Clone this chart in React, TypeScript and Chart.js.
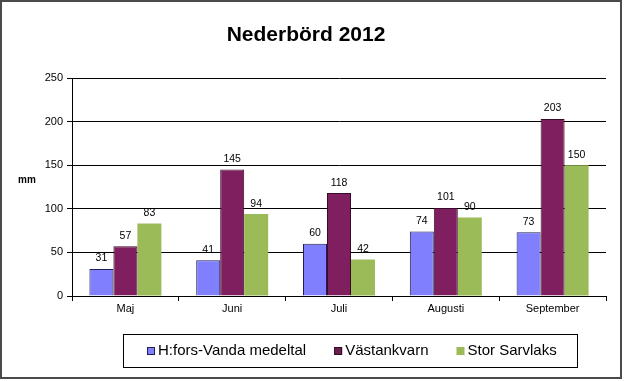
import { useEffect, useRef } from 'react';
import { Chart, registerables } from 'chart.js';

Chart.register(...registerables);

const chartTitle = 'Nederbörd 2012';
const categories = ['Maj', 'Juni', 'Juli', 'Augusti', 'September'];
const seriesNames = ['H:fors-Vanda medeltal', 'Västankvarn', 'Stor Sarvlaks'];
const hforsVanda = [31, 41, 60, 74, 73];
const vastankvarn = [57, 145, 118, 101, 203];
const storSarvlaks = [83, 94, 42, 90, 150];
const yMin = 0;
const yMax = 250;
const yStep = 50;
const yAxisLabel = 'mm';

const FONT = "'Liberation Sans', Arial, sans-serif";

const fills = ['#8080FF', '#7F1F5F', '#9BBB59'];
const borders = ['#1F1F50', '#3A0A2A', '#9BBB59'];
const legendFills = ['#8080FF', '#6A1E4E', '#9BBB59'];

const decorPlugin = {
  id: 'decor',
  beforeDraw(chart: any) {
    const { ctx, width, height } = chart;
    ctx.save();
    ctx.fillStyle = '#ffffff';
    ctx.fillRect(0, 0, width, height);
    ctx.restore();
  },
  afterDraw(chart: any) {
    const { ctx, chartArea } = chart;
    ctx.save();
    // outer border
    ctx.strokeStyle = '#4a4a4a';
    ctx.lineWidth = 2;
    ctx.strokeRect(1, 1, 620, 377);
    // title
    ctx.fillStyle = '#000';
    ctx.font = `bold 21px ${FONT}`;
    ctx.textAlign = 'center';
    ctx.textBaseline = 'middle';
    ctx.fillText(chartTitle, 306, 35);
    // y axis label
    ctx.font = `bold 10px ${FONT}`;
    ctx.fillText(yAxisLabel, chartArea.left - 45, 180);
    // legend
    const boxL = 123, boxT = 334, boxR = 577, boxB = 367;
    ctx.lineWidth = 1;
    ctx.strokeStyle = '#000';
    ctx.strokeRect(boxL + 0.5, boxT + 0.5, boxR - boxL, boxB - boxT);
    ctx.font = `15px ${FONT}`;
    const marker = 8;
    const gapMT = 3;
    const gapItems = 28;
    const widths = seriesNames.map((n) => ctx.measureText(n).width);
    const total = widths.reduce((a, w) => a + marker + gapMT + w, 0) + gapItems * (seriesNames.length - 1);
    let x = Math.round((boxL + boxR) / 2 - total / 2 + 2);
    const cy = (boxT + boxB) / 2 + 0.5;
    ctx.textAlign = 'left';
    ctx.textBaseline = 'middle';
    seriesNames.forEach((n, i) => {
      ctx.fillStyle = legendFills[i];
      ctx.fillRect(x, Math.round(cy - marker / 2), marker, marker);
      if (i < 2) {
        ctx.strokeStyle = borders[i];
        ctx.strokeRect(x + 0.5, Math.round(cy - marker / 2) + 0.5, marker - 1, marker - 1);
      }
      ctx.fillStyle = '#000';
      ctx.fillText(n, x + marker + gapMT, cy);
      x += marker + gapMT + widths[i] + gapItems;
    });
    ctx.restore();
  },
};

const valueLabelPlugin = {
  id: 'valueLabels',
  afterDatasetsDraw(chart: any) {
    const { ctx } = chart;
    ctx.save();
    ctx.fillStyle = '#000';
    ctx.font = `10.5px ${FONT}`;
    ctx.textAlign = 'center';
    ctx.textBaseline = 'alphabetic';
    chart.data.datasets.forEach((ds: any, di: number) => {
      const meta = chart.getDatasetMeta(di);
      meta.data.forEach((bar: any, i: number) => {
        ctx.fillText(String(ds.data[i]), bar.x, bar.y - 7.5);
      });
    });
    ctx.restore();
  },
};

export default function App() {
  const ref = useRef<HTMLCanvasElement | null>(null);
  useEffect(() => {
    if (!ref.current) return;
    const seriesData = [hforsVanda, vastankvarn, storSarvlaks];
    const chart = new Chart(ref.current, {
      type: 'bar',
      data: {
        labels: categories,
        datasets: seriesNames.map((name, i) => ({
          label: name,
          data: seriesData[i],
          backgroundColor: fills[i],
          borderColor: borders[i],
          borderWidth: i < 2 ? 1 : 0,
          categoryPercentage: 0.674,
          barPercentage: 1.0,
        })),
      },
      options: {
        animation: false,
        responsive: false,
        maintainAspectRatio: false,
        layout: { padding: { left: 0, right: 19, top: 78, bottom: 65 } },
        plugins: {
          legend: { display: false },
          title: { display: false },
          tooltip: { enabled: false },
        },
        scales: {
          x: {
            grid: {
              display: true,
              offset: true,
              drawOnChartArea: false,
              drawTicks: true,
              tickLength: 5,
              color: '#000',
            },
            border: { display: true, color: '#000', width: 1 },
            ticks: { color: '#000', font: { family: FONT, size: 11 }, padding: 1, maxRotation: 0 },
            afterFit: (s: any) => { s.height = 20; },
          },
          y: {
            min: yMin,
            max: yMax,
            ticks: { stepSize: yStep, color: '#000', font: { family: FONT, size: 11 }, padding: 4 },
            grid: { color: '#000', tickLength: 5, drawTicks: true },
            border: { display: true, color: '#000', width: 1 },
            afterFit: (s: any) => { s.width = 72; },
          },
        },
      },
      plugins: [decorPlugin, valueLabelPlugin],
    });
    return () => chart.destroy();
  }, []);
  return (
    <div style={{ position: 'fixed', left: 0, top: 0, width: 625, height: 381 }}>
      <canvas ref={ref} width={625} height={381} style={{ display: 'block', width: 625, height: 381 }} />
    </div>
  );
}
